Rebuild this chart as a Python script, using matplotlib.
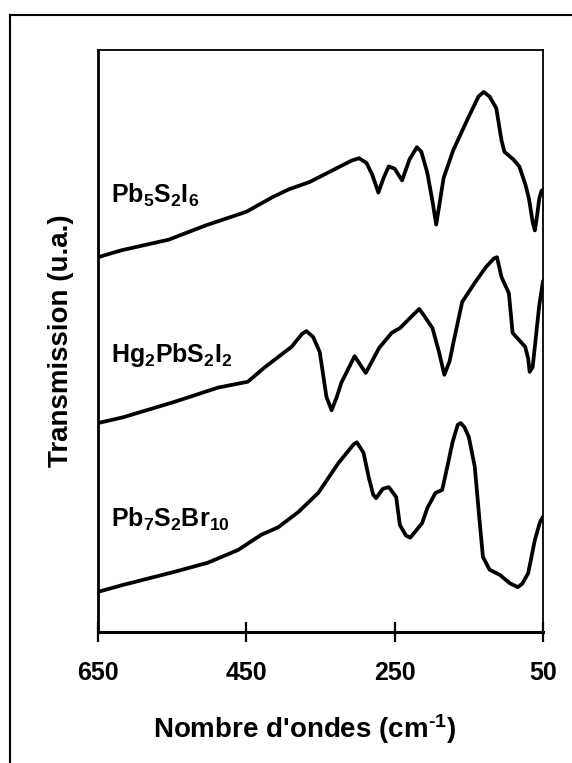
import matplotlib
matplotlib.use("Agg")
import matplotlib.pyplot as plt
from matplotlib.lines import Line2D

plt.rcParams["font.family"] = ["Liberation Sans", "DejaVu Sans"]
plt.rcParams["font.weight"] = "bold"
plt.rcParams["mathtext.fontset"] = "custom"
plt.rcParams["mathtext.bf"] = "Liberation Sans:bold"
plt.rcParams["mathtext.rm"] = "Liberation Sans:bold"
plt.rcParams["mathtext.default"] = "bf"

# Far-IR spectra, transmission in arbitrary units (curves offset vertically)
pb5_wavenumber = [650, 618, 555, 504, 450, 415, 392, 365, 328, 308, 298, 288, 280, 272,
                  265, 258, 250, 240, 230, 220, 214, 206, 199, 194, 189, 184, 171, 151,
                  137, 130, 122, 113, 106, 102, 90, 82, 74, 69, 64, 61, 58, 55, 52, 50]
pb5_transmission = [64.4, 65.6, 67.4, 69.9, 72.2, 74.7, 76.1, 77.3, 79.7, 81.0, 81.4, 80.6,
                    78.5, 75.5, 78.0, 80.0, 79.6, 77.6, 81.2, 83.3, 82.5, 78.9, 74.0, 70.0,
                    74.0, 78.0, 82.8, 88.3, 92.0, 92.8, 92.0, 90.0, 84.5, 82.5, 81.2, 80.0,
                    77.0, 74.5, 70.5, 69.0, 71.5, 74.5, 75.8, 76.0]

hg2_wavenumber = [650, 616, 548, 488, 448, 426, 389, 375, 369, 360, 351, 342, 335, 328,
                  322, 304, 289, 271, 254, 243, 225, 217, 210, 199, 190, 183, 176, 170,
                  159, 142, 127, 116, 112, 106, 96, 91, 74, 70, 68, 64, 61, 55, 50]
hg2_transmission = [35.9, 36.9, 39.5, 42.0, 43.0, 45.4, 49.0, 51.2, 51.7, 50.7, 48.1, 40.4,
                    38.1, 40.4, 42.8, 47.4, 44.5, 48.8, 51.4, 52.2, 54.5, 55.5, 54.3, 52.2,
                    48.0, 44.2, 46.5, 50.2, 56.7, 60.0, 62.7, 64.2, 64.4, 61.0, 58.2, 51.4,
                    49.0, 47.0, 44.7, 45.5, 49.0, 56.2, 60.3]

pb7_wavenumber = [650, 616, 548, 502, 461, 430, 407, 380, 353, 326, 305, 301, 292, 285,
                  279, 275, 266, 258, 248, 243, 235, 229, 213, 206, 195, 186, 179, 172,
                  165, 161, 156, 150, 142, 136, 131, 122, 108, 95, 84, 78, 70, 61, 54, 50]
pb7_transmission = [6.9, 8.1, 10.3, 11.9, 14.1, 16.7, 18.0, 20.6, 23.9, 29.0, 32.3, 32.6,
                    30.8, 26.6, 23.6, 23.0, 24.6, 24.9, 23.2, 18.4, 16.6, 16.2, 18.7, 21.3,
                    23.9, 24.4, 28.4, 32.6, 35.6, 35.9, 35.2, 33.5, 28.4, 19.8, 12.9, 10.7,
                    9.8, 8.4, 7.7, 8.3, 10.1, 15.8, 18.9, 19.8]

curve_labels = [r"Pb$_5$S$_2$I$_6$", r"Hg$_2$PbS$_2$I$_2$", r"Pb$_7$S$_2$Br$_{10}$"]
label_baselines = [73.7, 46.4, 18.1]

x_ticks = [650, 450, 250, 50]

fig = plt.figure(figsize=(5.72, 7.63), dpi=100)
ax = fig.add_axes([98 / 572, 1 - 632 / 763, 445 / 572, 582 / 763])

for wn, tr in [(pb5_wavenumber, pb5_transmission),
               (hg2_wavenumber, hg2_transmission),
               (pb7_wavenumber, pb7_transmission)]:
    ax.plot(wn, tr, color="black", lw=2.7, solid_joinstyle="round", solid_capstyle="round")

for label, base in zip(curve_labels, label_baselines):
    ax.text(632, base, label, fontsize=18, fontweight="bold", va="baseline", ha="left")

ax.set_xlim(650, 50)
ax.set_ylim(0, 100)
ax.set_xticks(x_ticks)
ax.set_xticklabels([str(t) for t in x_ticks])
ax.set_yticks([])
ax.tick_params(axis="x", direction="inout", length=14, width=1.6, pad=14, labelsize=18)

ax.spines["left"].set_linewidth(2.0)
ax.spines["bottom"].set_linewidth(2.2)
ax.spines["top"].set_linewidth(1.3)
ax.spines["right"].set_linewidth(1.3)

ax.set_xlabel(r"Nombre d'ondes (cm$^{\text{-}1}$)", fontsize=20, fontweight="bold")
ax.xaxis.set_label_coords(0.463, -0.138)
ax.set_ylabel("Transmission (u.a.)", fontsize=20, fontweight="bold")
ax.yaxis.set_label_coords(-0.055, 0.5)

# outer frame of the figure panel (runs off the right and bottom edges)
fig.add_artist(Line2D([10 / 572, 1.05], [1 - 15 / 763, 1 - 15 / 763],
                      transform=fig.transFigure, color="black", lw=1.5))
fig.add_artist(Line2D([10 / 572, 10 / 572], [1 - 15 / 763, -0.05],
                      transform=fig.transFigure, color="black", lw=1.5))

fig.savefig("out.png", dpi=100)
